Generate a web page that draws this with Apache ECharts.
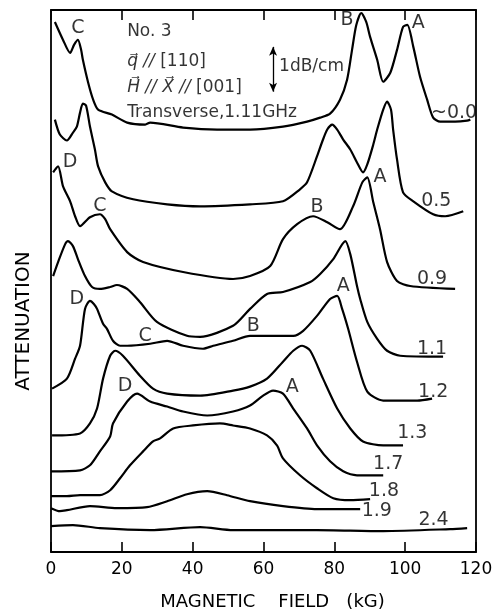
<!DOCTYPE html>
<html><head><meta charset="utf-8">
<script src="https://cdn.jsdelivr.net/npm/echarts@6/dist/echarts.min.js"></script>
<style>html,body{margin:0;padding:0;background:#fff}#c{width:497px;height:616px}</style>
</head><body><div id="c"></div>
<script>
// x: magnetic field (kG); y: attenuation (arbitrary units, curves offset)
const xTickValues = [0, 20, 40, 60, 80, 100, 120];
const yRange = [0, 544];

const curve00 = [[1.1,532],[3.4,514],[5.4,501],[6.5,509],[7.6,514],[8.5,504],[9.0,494],[10.5,471],[11.9,454],[13.3,444],[17.2,439],[21.5,431],[26.6,429],[28,431],[37.3,426],[46.9,424],[56.2,424],[65.5,427],[72.3,432],[76,436],[78.8,440],[81.6,454],[83.6,474],[85,504],[86.2,529],[87.6,541],[89,532],[90.1,517],[92.1,494],[93.8,472],[95.8,481],[97.7,504],[99.4,527],[100.6,529],[102.3,507],[104.2,477],[106.2,454],[107.9,436],[109.9,432],[114.1,432],[117.5,433],[118.4,434]];
const curve05 = [[1.1,434],[2.5,419],[4.5,413],[6.2,421],[7.3,427],[8.2,441],[9.0,450],[9.9,448],[11.0,427],[12.4,404],[13.3,387],[15.3,371],[17.2,362],[23.2,354],[32.8,349],[42.1,347],[56.2,349],[65.5,352],[70.3,364],[72.3,371],[75.1,397],[76.6,412],[78,424],[79.4,429],[80.8,424],[82.5,414],[84.5,404],[86.4,391],[88.1,381],[89.3,389],[91,409],[92.1,424],[93.8,444],[94.9,452],[96,444],[96.6,424],[97.7,394],[99.4,361],[102.3,352],[107.9,339],[111.3,337],[116.4,342]];
const curve09 = [[0.6,381],[2.0,387],[3.4,367],[5.4,352],[6.8,337],[8.2,327],[11,336],[13.8,339],[15.3,334],[16.7,324],[21.5,301],[26,291],[37.3,281],[51.4,274],[56.2,277],[61.9,287],[65.5,314],[69.5,329],[74,337],[78,331],[81.6,324],[85.3,347],[87.9,371],[89.3,376],[91,351],[92.9,324],[94.9,291],[97.7,272],[101.4,267],[114.1,264]];
const curve11 = [[0.6,277],[2,291],[4,309],[4.8,312],[6.2,307],[7.6,294],[9.6,277],[11.6,266],[13.8,264],[16.7,266],[18.6,268],[21.5,264],[25.1,251],[29.9,231],[38.4,217],[42.1,216],[51.4,227],[56.2,244],[61,259],[65.5,261],[73.2,271],[76,279],[79.7,294],[83.1,312],[84.5,299],[86.4,267],[87.3,254],[89.3,231],[92.1,214],[94.9,202],[98.6,197],[110.7,196]];
const curve12 = [[0.3,164],[4.5,174],[6.8,194],[8.2,207],[9.6,244],[11,252],[12.1,249],[13,244],[14.7,229],[15.8,224],[17.5,212],[19.5,207],[21.5,207],[28,209],[32.8,212],[37.3,207],[42.9,204],[45.8,207],[51.4,212],[56.2,217],[68.4,217],[71.2,222],[75.1,237],[78.8,254],[80.8,257],[82.2,244],[83.9,224],[86.4,191],[89.3,161],[93.8,152],[103.4,152],[107.6,154]];
const curve13 = [[0.3,117],[8.2,119],[11,129],[13,144],[14.7,174],[16.7,197],[18.1,202],[20.3,197],[25.1,177],[28.8,164],[32.8,159],[42.1,157],[51.4,162],[56.2,166],[61,174],[65.5,191],[68.4,202],[70.9,207],[73.2,202],[76.8,174],[80.8,144],[84.5,124],[88.1,111],[93.8,107],[99.4,107]];
const curve17 = [[0,81],[8.2,82],[11,87],[13.8,101],[16.7,116],[17.5,129],[21.5,151],[24.3,159],[28,151],[32.8,146],[37.3,141],[44.1,137],[51.4,141],[56.2,147],[59.9,157],[62.7,162],[65.5,159],[68.4,144],[72.3,124],[75.1,107],[78.8,91],[82.5,81],[86.4,77],[93.8,77]];
const curve18 = [[0,56],[4.5,56],[8.2,57],[13.8,57],[16.7,62],[19.5,74],[22.3,87],[26,101],[28.8,111],[30.8,114],[34.5,124],[40.1,127],[47.7,129],[51.4,127],[56.2,124],[61,117],[63.8,107],[65.5,94],[70.3,77],[75.1,64],[79.7,54],[84.5,52],[90.1,53]];
const curve19 = [[0,44],[2.5,41],[4.5,42],[11,46],[18.6,44],[27.1,45],[32.8,51],[38.4,58],[44.1,61],[49.7,57],[56.2,51],[65.5,46],[75.1,43],[87.3,43]];
const curve24 = [[0,26],[6.2,27],[13.8,24],[28,22],[42.1,25],[51.4,22],[56.2,22],[75.1,22],[93.8,21],[112.7,23],[117.5,24]];

const curves = [curve00, curve05, curve09, curve11, curve12, curve13, curve17, curve18, curve19, curve24];
const curveNames = ['~0.0','0.5','0.9','1.1','1.2','1.3','1.7','1.8','1.9','2.4'];

const curveLabels = [[113.8,441,'~0.0'],[108.8,352,'0.5'],[107.6,274,'0.9'],[107.6,204,'1.1'],[107.9,161,'1.2'],[102,119,'1.3'],[95.2,88,'1.7'],[94,61,'1.8'],[92,41,'1.9'],[108,32,'2.4']];
const peakLabels = [[7.6,526,'C'],[83.6,534,'B'],[103.7,531,'A'],[5.4,391,'D'],[13.8,347,'C'],[75.1,346,'B'],[92.9,376,'A'],[7.3,254,'D'],[26.6,217,'C'],[57.1,227,'B'],[82.5,267,'A'],[20.9,167,'D'],[68.1,166,'A']];
const infoLines = [[21.5,522,'No. 3'],[21.5,492,'{i|q\u20D7} {i|//} [110]'],[21.5,466,'{i|H\u20D7} {i|//} {i|X\u20D7} {i|//} [001]'],[21.5,441,'Transverse,1.11GHz'],[64.4,487,'1dB/cm']];
const scaleBar = [[62.7,462],[62.7,507]];

const FONT = 'DejaVu Sans';
const INK = '#000';

const chart = echarts.init(document.getElementById('c'), null, {renderer:'canvas'});

const series = curves.map((d, i) => ({
  type: 'line', name: curveNames[i], data: d, smooth: 0.25, symbol: 'none',
  lineStyle: {color: INK, width: 2.2}, silent: true, z: 2
}));
series[0].markLine = {
  silent: true, symbol: ['arrow','arrow'], symbolSize: [6, 9],
  lineStyle: {color: INK, width: 1.3, type: 'solid'}, label: {show: false},
  data: [[{coord: scaleBar[0]}, {coord: scaleBar[1]}]]
};
function lbl(size, extra) {
  return Object.assign({show: true, color: INK, fontFamily: FONT, fontSize: size, textBorderWidth: 0}, extra);
}
series.push({
  type: 'scatter', data: curveLabels, symbolSize: 0, silent: true, z: 5,
  label: lbl(19, {position: 'inside', formatter: p => p.value[2]})
});
series.push({
  type: 'scatter', data: peakLabels, symbolSize: 0, silent: true, z: 5,
  label: lbl(19, {position: 'inside', formatter: p => p.value[2]})
});
series.push({
  type: 'scatter', data: infoLines, symbolSize: 0, silent: true, z: 5,
  label: lbl(17, {position: 'right', distance: 0, formatter: p => p.value[2],
    rich: {i: {fontStyle: 'italic', fontFamily: FONT, fontSize: 17, color: INK}}})
});

function tick() { return {show: true, inside: true, length: 10, lineStyle: {color: INK, width: 1.6}}; }
function aline() { return {show: true, onZero: false, lineStyle: {color: INK, width: 1.8}}; }
chart.setOption({
  animation: false,
  backgroundColor: '#fff',
  grid: {left: 51, right: 21, top: 10, bottom: 62, containLabel: false},
  xAxis: [{
    type: 'value', min: xTickValues[0], max: xTickValues[xTickValues.length-1], interval: xTickValues[1]-xTickValues[0],
    axisLine: aline(), axisTick: tick(), splitLine: {show: false},
    axisLabel: {color: INK, fontFamily: FONT, fontSize: 17, margin: 9},
    name: 'MAGNETIC    FIELD   (kG)', nameLocation: 'middle', nameGap: 41,
    nameTextStyle: {color: INK, fontFamily: FONT, fontSize: 18, padding: [0,0,0,18]}
  }, {
    type: 'value', position: 'top', min: xTickValues[0], max: xTickValues[xTickValues.length-1], interval: xTickValues[1]-xTickValues[0],
    axisLine: aline(), axisTick: tick(), splitLine: {show: false}, axisLabel: {show: false}
  }],
  yAxis: [{
    type: 'value', min: yRange[0], max: yRange[1],
    axisLine: aline(), axisTick: {show: false}, axisLabel: {show: false}, splitLine: {show: false}
  }, {
    type: 'value', position: 'right', min: yRange[0], max: yRange[1],
    axisLine: aline(), axisTick: {show: false}, axisLabel: {show: false}, splitLine: {show: false}
  }],
  graphic: [{
    type: 'text', x: 24, y: 321, rotation: Math.PI/2,
    style: {text: 'ATTENUATION', fill: INK, font: '20px "DejaVu Sans"', textAlign: 'center', textVerticalAlign: 'middle'}
  }],
  series: series
});
</script></body></html>
